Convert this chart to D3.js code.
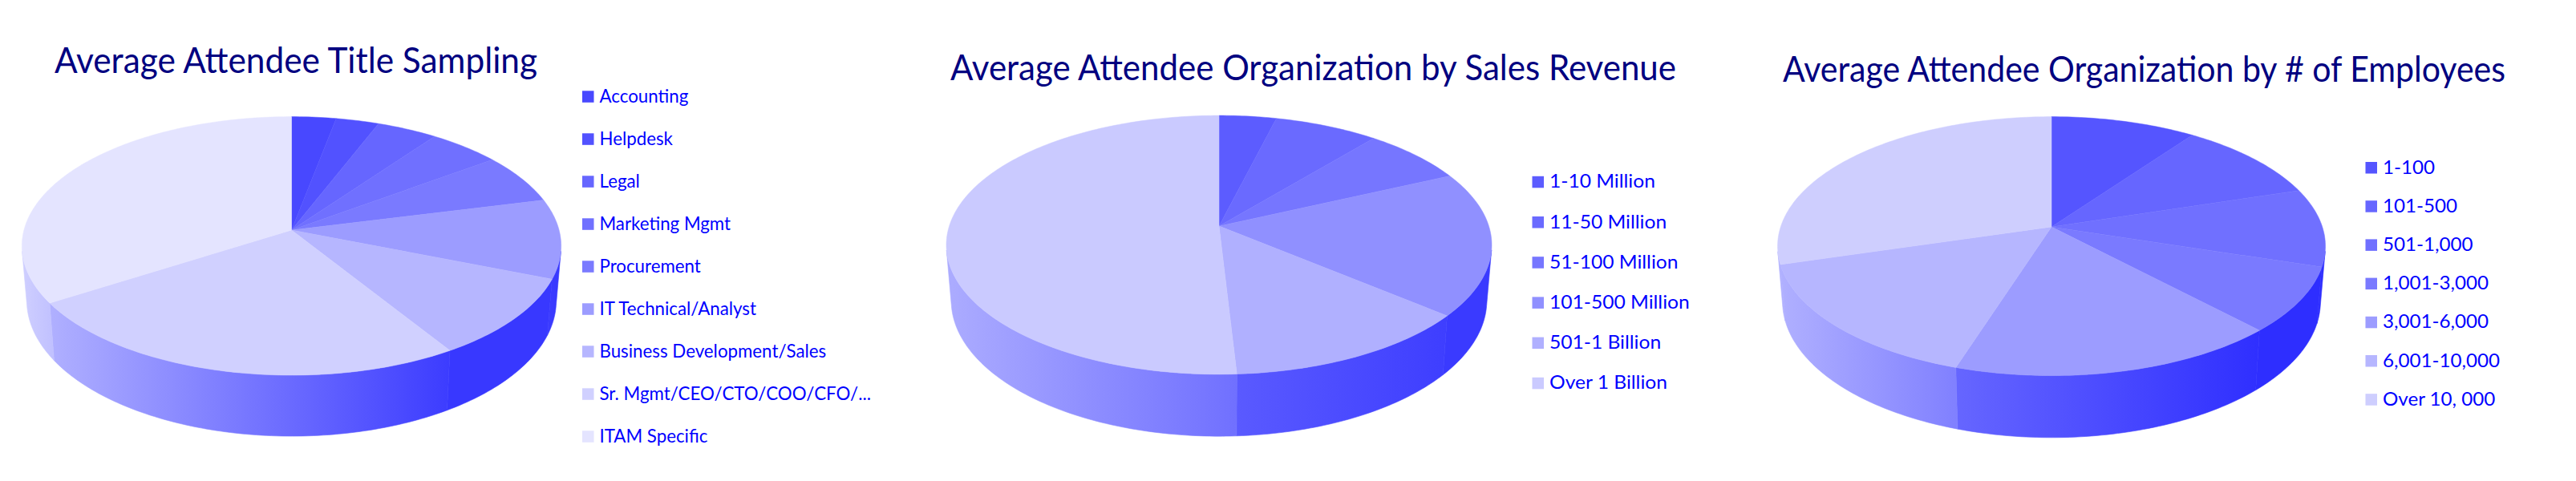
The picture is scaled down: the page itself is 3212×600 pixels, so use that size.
<!DOCTYPE html>
<html><head><meta charset="utf-8">
<script src="https://cdn.jsdelivr.net/npm/d3@7"></script>
<style>html,body{margin:0;padding:0;background:#fff}svg{display:block}text{font-family:Lato,"Open Sans",sans-serif}</style>
</head><body><svg id="c" width="3212" height="600"></svg>
<script>
// ---- data (percent shares) ----
const titleCategories = ["Accounting","Helpdesk","Legal","Marketing Mgmt","Procurement","IT Technical/Analyst","Business Development/Sales","Sr. Mgmt/CEO/CTO/COO/CFO/...","ITAM Specific"];
const titleValues = [3.0,2.9,4.1,4.9,6.2,9.9,10.1,24.9,34.0];
const titleColors = ["#4848ff","#5252ff","#6666ff","#7070ff","#7a7aff","#9c9cff","#b6b6ff","#d0d0ff","#e4e4ff"];
const titleSideLight = [null,null,null,null,"#3c3cff","#3c3cff","#3838ff","#b0b0ff","#cfcfff"];
const titleSideDark  = [null,null,null,null,"#3838ff","#3838ff","#3838ff","#3c3cff","#c0c0ff"];

const revenueCategories = ["1-10 Million","11-50 Million","51-100 Million","101-500 Million","501-1 Billion","Over 1 Billion"];
const revenueValues = [3.9,7.1,7.1,18.0,13.0,50.9];
const revenueColors = ["#5c5cff","#6a6aff","#7676ff","#9090ff","#b0b0ff","#cacaff"];
const revenueSideLight = [null,null,"#3a3aff","#3a3aff","#5a5aff","#acacff"];
const revenueSideDark  = [null,null,"#3a3aff","#3a3aff","#3e3eff","#7070ff"];

const employeeCategories = ["1-100","101-500","501-1,000","1,001-3,000","3,001-6,000","6,001-10,000","Over 10, 000"];
const employeeValues = [9.9,10.25,9.75,8.1,16.9,15.5,29.6];
const employeeColors = ["#5555ff","#6666ff","#7070ff","#7a7aff","#9c9cff","#b6b6ff","#cecefe"];
const employeeSideLight = [null,"#2e2eff","#2e2eff","#2e2eff","#6666ff","#b0b0ff","#b0b0ff"];
const employeeSideDark  = [null,"#2e2eff","#2e2eff","#2e2eff","#2f2fff","#8080ff","#b0b0ff"];

const chartTitles = ["Average Attendee Title Sampling","Average Attendee Organization by Sales Revenue","Average Attendee Organization by # of Employees"];

// ---- layout ----
const layouts = [
 {cx:363.5,cy:287,a:333.6,b:158.8,k:.1228,sx:.982,sy:1.05,dy:67, tx:68,  tw:602, ty:91,  lx:726,   ly:120.3,ls:53,  lw:.97},
 {cx:1520, cy:282,a:336.4,b:158,  k:.1455,sx:.982,sy:1.05,dy:68, tx:1185,tw:905, ty:100, lx:1910.5,ly:226.8,ls:50.2,lw:1.07},
 {cx:2558, cy:283,a:337.7,b:157.9,k:.149, sx:.982,sy:1.05,dy:68, tx:2223,tw:901, ty:101.5,lx:2949.5,ly:209,  ls:48.2,lw:1.05}
];
const svg = d3.select("#c");
const defs = svg.append("defs");
const pieLayout = d3.pie().sort(null).value(d=>d).startAngle(0).endAngle(2*Math.PI);
const line = d3.line();
const STEP = Math.PI/180;

function drawChart(i,cats,vals,cols,sideL,sideD){
  const L = layouts[i];
  const g = svg.append("g");
  const topPt = t=>{const X=Math.sin(t),Y=-Math.cos(t),w=1-L.k*Y;return [L.a*X/w,L.b*Y/w];};
  const top = t=>{const p=topPt(t);return [L.cx+p[0],L.cy+p[1]];};
  const bot = t=>{const p=topPt(t);return [L.cx+L.sx*p[0],L.cy+L.sy*p[1]+L.dy];};
  const arcTs=(t0,t1)=>{const n=Math.max(2,Math.ceil((t1-t0)/STEP));return d3.range(n+1).map(j=>t0+(t1-t0)*j/n);};
  // the wall is only visible between the two fold angles, where it turns edge-on
  const facing=t=>{const a=top(t),b=top(t+.001),c=bot(t);return (b[0]-a[0])*(c[1]-a[1])-(b[1]-a[1])*(c[0]-a[0]);};
  const sign=Math.sign(facing(Math.PI));
  let lo=Math.PI,hi=Math.PI;
  while(lo>0 && Math.sign(facing(lo))===sign) lo-=STEP/10;
  while(hi<2*Math.PI && Math.sign(facing(hi))===sign) hi+=STEP/10;
  const arcs = pieLayout(vals);
  arcs.forEach((d,j)=>{
    if(!sideL[j]) return;
    const t0=Math.max(d.startAngle,lo), t1=Math.min(d.endAngle,hi);
    if(t1<=t0) return;
    const ts=arcTs(t0,t1);
    const pts=ts.map(top).concat(ts.slice().reverse().map(bot));
    const xs=pts.map(p=>p[0]);
    const id=`side-${i}-${j}`;
    const gr=defs.append("linearGradient").attr("id",id).attr("gradientUnits","userSpaceOnUse")
      .attr("x1",d3.min(xs)).attr("x2",d3.max(xs)).attr("y1",0).attr("y2",0);
    gr.append("stop").attr("offset",0).attr("stop-color",sideL[j]);
    gr.append("stop").attr("offset",1).attr("stop-color",sideD[j]);
    g.append("path").attr("d",line(pts)+"Z").attr("fill",`url(#${id})`).attr("stroke",`url(#${id})`).attr("stroke-width",.6);
  });
  arcs.forEach((d,j)=>{
    const pts=[[L.cx,L.cy]].concat(arcTs(d.startAngle,d.endAngle).map(top));
    g.append("path").attr("d",line(pts)+"Z").attr("fill",cols[j]).attr("stroke",cols[j]).attr("stroke-width",.5);
  });
  svg.append("text").attr("x",L.tx).attr("y",L.ty).attr("font-size",44).attr("fill","#000080")
    .attr("textLength",L.tw).attr("lengthAdjust","spacingAndGlyphs").text(chartTitles[i]);
  const y=d3.scalePoint().domain(cats).range([L.ly,L.ly+L.ls*(cats.length-1)]);
  const row=svg.append("g").selectAll("g").data(cats).join("g").attr("transform",d=>`translate(${L.lx},${y(d)})`);
  row.append("rect").attr("x",0).attr("y",-7).attr("width",14.5).attr("height",14.5).attr("fill",(d,j)=>cols[j]);
  row.append("text").attr("transform",`translate(21.5,7.5) scale(${L.lw},1)`).attr("font-size",23).attr("fill","#0000ff").text(d=>d);
}
drawChart(0,titleCategories,titleValues,titleColors,titleSideLight,titleSideDark);
drawChart(1,revenueCategories,revenueValues,revenueColors,revenueSideLight,revenueSideDark);
drawChart(2,employeeCategories,employeeValues,employeeColors,employeeSideLight,employeeSideDark);
</script></body></html>
